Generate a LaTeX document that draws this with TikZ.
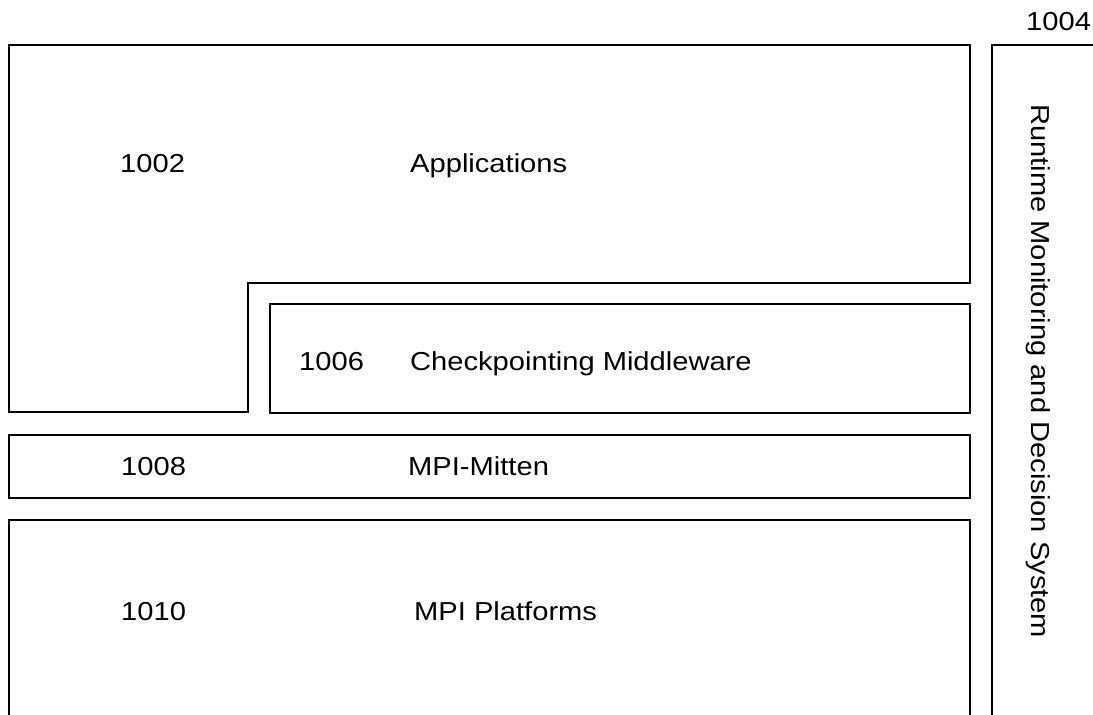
\documentclass[tikz,border=0pt]{standalone}
\usepackage{graphicx}
\usepackage{fontspec}
\setmainfont{Liberation Sans}
% slightly widened label face
\newcommand{\widelabel}[1]{\scalebox{1.12}[1]{#1}}
\begin{document}
\begin{tikzpicture}[x=1pt,y=-1pt,
  layer/.style={draw=black,line width=1.8pt},
  lbl/.style={font=\fontsize{26}{28}\selectfont,inner sep=0pt,anchor=base west}]
  \useasboundingbox[fill=white] (0,0) rectangle (1093,715);
  % Applications (L-shaped layer)
  \draw[layer] (9,412) -- (9,45) -- (970,45) -- (970,283) -- (248,283) -- (248,412) -- cycle;
  \node[lbl] (n1002) at (120,172) {\widelabel{1002}};
  \node[lbl] (app) at (410,172) {\widelabel{Applications}};
  % Checkpointing middleware
  \draw[layer] (270,304) rectangle (970,413);
  \node[lbl] (n1006) at (299,370) {\widelabel{1006}};
  \node[lbl] (ckpt) at (410,370) {\widelabel{Checkpointing Middleware}};
  % MPI-Mitten
  \draw[layer] (9,435) rectangle (970,498);
  \node[lbl] (n1008) at (121,475) {\widelabel{1008}};
  \node[lbl] (mitten) at (408,475) {\widelabel{MPI-Mitten}};
  % MPI platforms (open at the bottom)
  \draw[layer] (9,716) -- (9,520) -- (970,520) -- (970,716);
  \node[lbl] (n1010) at (121,620) {\widelabel{1010}};
  \node[lbl] (plat) at (414,620) {\widelabel{MPI Platforms}};
  % Runtime monitoring column
  \draw[layer] (992,716) -- (992,45) -- (1094,45);
  \node[lbl,rotate=-90] (rt) at (1031,104) {\widelabel{Runtime Monitoring and Decision System}};
  \node[lbl] (n1004) at (1026,30) {\widelabel{1004}};
\end{tikzpicture}
\end{document}
